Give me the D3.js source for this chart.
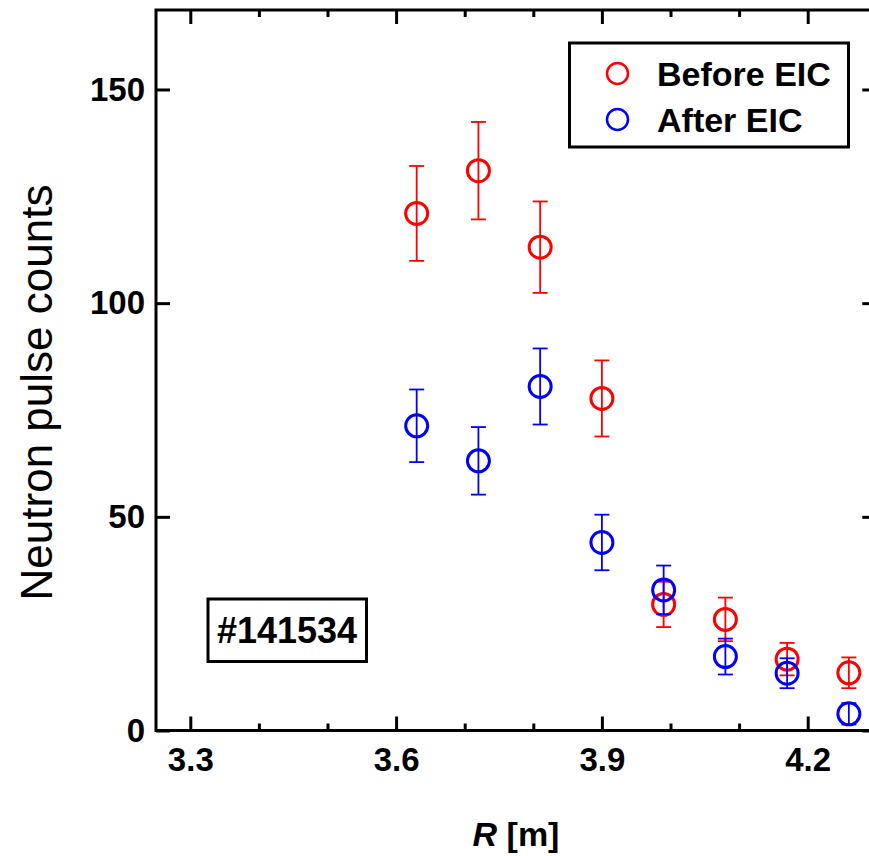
<!DOCTYPE html>
<html>
<head>
<meta charset="utf-8">
<script src="https://cdn.jsdelivr.net/npm/d3@7"></script>
<style>
  html, body { margin: 0; padding: 0; background: #fff; overflow: hidden; }
  svg { display: block; }
  text { font-family: "Liberation Sans", Arial, sans-serif; }
</style>
</head>
<body>
<div id="chart"></div>
<script>
// ---- data ----
const radius = [3.63, 3.72, 3.81, 3.90, 3.99, 4.08, 4.17, 4.26];
const beforeEIC = [121.0, 131.0, 113.1, 77.7, 29.5, 26.0, 16.7, 13.5];
const beforeErr = [11.1, 11.4, 10.7, 8.9, 5.3, 5.1, 3.8, 3.6];
const afterEIC = [71.3, 63.1, 80.5, 44.0, 32.9, 17.3, 13.4, 3.9];
const afterErr = [8.5, 7.9, 8.9, 6.5, 5.7, 4.2, 3.5, 2.5];
const xMajorTicks = [3.3, 3.6, 3.9, 4.2];
const xMinorTicks = [3.4, 3.5, 3.7, 3.8, 4.0, 4.1];
const yTicks = [0, 50, 100, 150];
const seriesNames = ["Before EIC", "After EIC"];
const seriesColors = ["#ff0000", "#0000ff"];
const shotLabel = "#141534";

const W = 869, H = 856;
const svg = d3.select("#chart").append("svg").attr("width", W).attr("height", H);

const x = d3.scaleLinear().domain([3.25, 4.30]).range([156, 876.3]);
const y = d3.scaleLinear().domain([0, 168.6]).range([730.5, 10]);

const axW = 3;
// frame
svg.append("rect")
  .attr("x", x.range()[0]).attr("y", y.range()[1])
  .attr("width", x.range()[1] - x.range()[0])
  .attr("height", y.range()[0] - y.range()[1])
  .attr("fill", "none").attr("stroke", "#000").attr("stroke-width", axW);

function styleAxis(g) {
  g.select(".domain").remove();
  g.selectAll(".tick line").attr("stroke", "#000").attr("stroke-width", axW);
}

// bottom axis (major with labels)
const gB = svg.append("g").attr("transform", `translate(0,${y.range()[0]})`)
  .call(d3.axisBottom(x).tickValues(xMajorTicks).tickSize(-14).tickPadding(17)
    .tickFormat(d3.format(".1f")));
styleAxis(gB);
gB.selectAll(".tick text").attr("font-size", 33).attr("font-weight", "bold").attr("fill", "#000");
svg.append("g").attr("transform", `translate(0,${y.range()[0]})`)
  .call(d3.axisBottom(x).tickValues(xMinorTicks).tickSize(-7).tickFormat(""))
  .call(styleAxis);

// top axis
svg.append("g").attr("transform", `translate(0,${y.range()[1]})`)
  .call(d3.axisTop(x).tickValues(xMajorTicks).tickSize(-14).tickFormat(""))
  .call(styleAxis);
svg.append("g").attr("transform", `translate(0,${y.range()[1]})`)
  .call(d3.axisTop(x).tickValues(xMinorTicks).tickSize(-7).tickFormat(""))
  .call(styleAxis);

// left axis
const gL = svg.append("g").attr("transform", `translate(${x.range()[0]},0)`)
  .call(d3.axisLeft(y).tickValues(yTicks).tickSize(-14).tickPadding(11).tickFormat(d3.format("d")));
styleAxis(gL);
gL.selectAll(".tick text").attr("font-size", 33).attr("font-weight", "bold").attr("fill", "#000");

// right axis
svg.append("g").attr("transform", `translate(${x.range()[1]},0)`)
  .call(d3.axisRight(y).tickValues(yTicks).tickSize(-14).tickFormat(""))
  .call(styleAxis);

// axis titles
svg.append("text")
  .attr("transform", `translate(52,${(180 + 605) / 2}) rotate(-90)`)
  .attr("text-anchor", "middle").attr("font-size", 44).attr("fill", "#000")
  .text("Neutron pulse counts");

const xt = svg.append("text").attr("x", 516).attr("y", 846)
  .attr("text-anchor", "middle").attr("font-size", 34).attr("font-weight", "bold").attr("fill", "#000");
xt.append("tspan").attr("font-style", "italic").text("R");
xt.append("tspan").text(" [m]");

// data series
const series = [
  { name: seriesNames[0], vals: beforeEIC, errs: beforeErr, color: seriesColors[0] },
  { name: seriesNames[1], vals: afterEIC, errs: afterErr, color: seriesColors[1] }
];
const capHalf = 7.5;
series.forEach(s => {
  const g = svg.append("g");
  const pts = radius.map((r, i) => ({ r, v: s.vals[i], e: s.errs[i] }));
  const eb = g.selectAll("g.eb").data(pts).join("g").attr("class", "eb")
    .attr("stroke", s.color).attr("stroke-width", 1.8).attr("fill", "none");
  eb.append("line").attr("x1", d => x(d.r)).attr("x2", d => x(d.r))
    .attr("y1", d => y(d.v + d.e)).attr("y2", d => y(d.v - d.e));
  eb.append("line").attr("x1", d => x(d.r) - capHalf).attr("x2", d => x(d.r) + capHalf)
    .attr("y1", d => y(d.v + d.e)).attr("y2", d => y(d.v + d.e));
  eb.append("line").attr("x1", d => x(d.r) - capHalf).attr("x2", d => x(d.r) + capHalf)
    .attr("y1", d => y(d.v - d.e)).attr("y2", d => y(d.v - d.e));
  g.selectAll("circle").data(pts).join("circle")
    .attr("cx", d => x(d.r)).attr("cy", d => y(d.v)).attr("r", 11)
    .attr("fill", "none").attr("stroke", s.color).attr("stroke-width", 3);
});

// legend
const lg = svg.append("g");
lg.append("rect").attr("x", 569.5).attr("y", 43).attr("width", 279).attr("height", 104)
  .attr("fill", "#fff").attr("stroke", "#000").attr("stroke-width", 3);
series.forEach((s, i) => {
  const cy = 73.5 + i * 46;
  lg.append("circle").attr("cx", 617.5).attr("cy", cy).attr("r", 10.5)
    .attr("fill", "none").attr("stroke", s.color).attr("stroke-width", 2.5);
  lg.append("text").attr("x", 657).attr("y", cy + 12)
    .attr("font-size", 34).attr("font-weight", "bold").attr("fill", "#000").text(s.name);
});

// shot label
svg.append("rect").attr("x", 208).attr("y", 599).attr("width", 158.5).attr("height", 62.5)
  .attr("fill", "#fff").attr("stroke", "#000").attr("stroke-width", 3);
svg.append("text").attr("x", 287).attr("y", 643).attr("text-anchor", "middle")
  .attr("font-size", 36).attr("font-weight", "bold").attr("fill", "#000").text(shotLabel);
</script>
</body>
</html>
